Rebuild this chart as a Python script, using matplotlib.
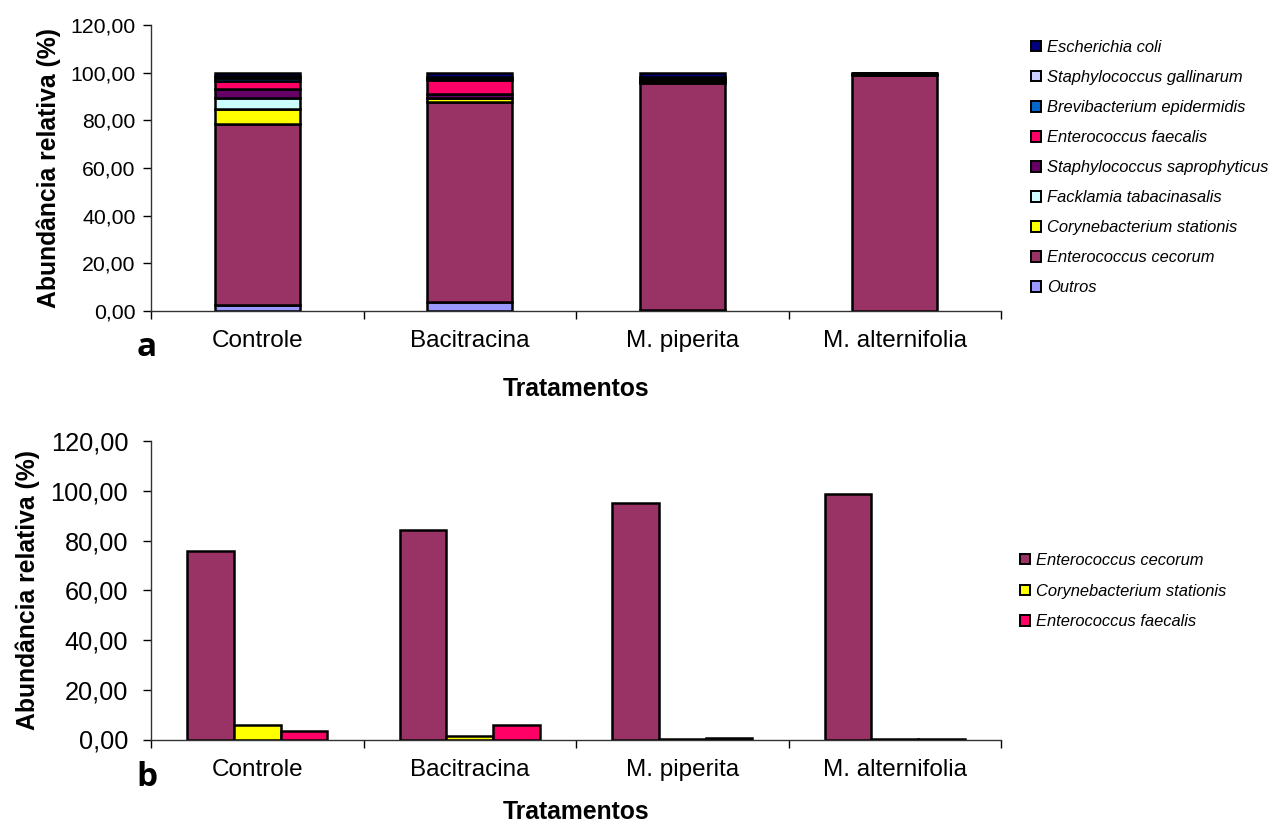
import matplotlib
matplotlib.use("Agg")
import matplotlib.pyplot as plt
from matplotlib.patches import Patch
from matplotlib.ticker import FixedLocator, FuncFormatter
import numpy as np

plt.rcParams['font.family'] = ['Liberation Sans', 'DejaVu Sans']

treatments = ["Controle", "Bacitracina", "M. piperita", "M. alternifolia"]

# Stacked composition (%), bottom to top
species = ["Outros", "Enterococcus cecorum", "Corynebacterium stationis",
           "Facklamia tabacinasalis", "Staphylococcus saprophyticus",
           "Enterococcus faecalis", "Brevibacterium epidermidis",
           "Staphylococcus gallinarum", "Escherichia coli"]
outros = [2.7, 3.6, 0.5, 0.2]
e_cecorum = [75.9, 84.2, 95.2, 98.8]
c_stationis = [6.0, 1.5, 0.3, 0.2]
f_tabacinasalis = [4.6, 0.2, 0.2, 0.1]
s_saprophyticus = [3.9, 1.4, 0.3, 0.1]
e_faecalis = [3.6, 6.0, 0.5, 0.3]
b_epidermidis = [1.1, 0.4, 0.5, 0.1]
s_gallinarum = [0.8, 1.0, 0.5, 0.1]
e_coli = [1.4, 1.7, 2.0, 0.1]
stack_values = [outros, e_cecorum, c_stationis, f_tabacinasalis, s_saprophyticus,
                e_faecalis, b_epidermidis, s_gallinarum, e_coli]
colors = ["#9999FF", "#993366", "#FFFF00", "#CCFFFF", "#660066",
          "#FF0066", "#0066CC", "#CCCCFF", "#000080"]

# Main species shown side by side
main_species = ["Enterococcus cecorum", "Corynebacterium stationis", "Enterococcus faecalis"]
main_values = [e_cecorum, c_stationis, e_faecalis]
main_colors = ["#993366", "#FFFF00", "#FF0066"]

W, H = 1272, 824
fig = plt.figure(figsize=(W / 100, H / 100), dpi=100)


def axes_px(left, top, right, bottom):
    return fig.add_axes([left / W, 1 - bottom / H, (right - left) / W, (bottom - top) / H])


def style_axes(ax, tick_size, ypad):
    ax.set_xlim(-0.5, len(treatments) - 0.5)
    ax.set_ylim(0, 120)
    ax.yaxis.set_major_locator(FixedLocator(np.arange(0, 121, 20)))
    ax.yaxis.set_major_formatter(FuncFormatter(lambda v, p: f"{v:.2f}".replace(".", ",")))
    ax.xaxis.set_major_locator(FixedLocator(np.arange(len(treatments))))
    ax.xaxis.set_minor_locator(FixedLocator(np.arange(-0.5, len(treatments), 1.0)))
    ax.set_xticklabels(treatments)
    ax.tick_params(axis='x', which='major', length=0, labelsize=17.5, pad=14)
    ax.tick_params(axis='x', which='minor', length=6, width=1, direction='out')
    ax.tick_params(axis='y', length=6, width=1, direction='out', labelsize=tick_size, pad=ypad)
    for s in ("top", "right"):
        ax.spines[s].set_visible(False)
    for s in ("left", "bottom"):
        ax.spines[s].set_linewidth(1)
        ax.spines[s].set_color("#333333")


# ---- (a) stacked composition ----
ax1 = axes_px(151, 25, 1001, 311)
x = np.arange(len(treatments))
bottom = np.zeros(len(treatments))
for vals, col in zip(stack_values, colors):
    ax1.bar(x, vals, width=0.4, bottom=bottom, color=col, edgecolor="black", linewidth=1.8)
    bottom += np.array(vals)
style_axes(ax1, 15.3, 5.2)
ax1.set_ylabel("Abundância relativa (%)", fontsize=17.8, fontweight="bold", labelpad=6.5)
ax1.set_xlabel("Tratamentos", fontsize=17.8, fontweight="bold", labelpad=18)

handles1 = [Patch(facecolor=c, edgecolor="black", linewidth=1.4, label=s)
            for s, c in zip(species, colors)][::-1]
fig.legend(handles=handles1, loc="upper left", bbox_to_anchor=(1031 / W, 1 - 40 / H),
           frameon=False, prop={"style": "italic", "size": 11.9},
           handlelength=0.6, handleheight=0.6, handletextpad=0.35, labelspacing=0.91,
           borderaxespad=0, borderpad=0)

fig.text(147 / W, 1 - 348 / H, "a", fontsize=24, fontweight="bold",
         family=["Open Sans", "DejaVu Sans"], ha="center", va="center")

# ---- (b) main species ----
ax2 = axes_px(151, 441, 1001, 739.5)
bw = 0.22
for i, (vals, col) in enumerate(zip(main_values, main_colors)):
    ax2.bar(x + (i - 1) * bw, vals, width=bw, color=col, edgecolor="black", linewidth=1.8)
style_axes(ax2, 18.3, 10.4)
ax2.set_ylabel("Abundância relativa (%)", fontsize=17.8, fontweight="bold", labelpad=7.5)
ax2.set_xlabel("Tratamentos", fontsize=17.8, fontweight="bold", labelpad=13.5)

handles2 = [Patch(facecolor=c, edgecolor="black", linewidth=1.4, label=s)
            for s, c in zip(main_species, main_colors)]
fig.legend(handles=handles2, loc="upper left", bbox_to_anchor=(1020 / W, 1 - 553 / H),
           frameon=False, prop={"style": "italic", "size": 11.9},
           handlelength=0.6, handleheight=0.6, handletextpad=0.35, labelspacing=0.95,
           borderaxespad=0, borderpad=0)

fig.text(147 / W, 1 - 778 / H, "b", fontsize=24, fontweight="bold",
         family=["Open Sans", "DejaVu Sans"], ha="center", va="center")

fig.savefig("out.png", dpi=100, facecolor="white")
